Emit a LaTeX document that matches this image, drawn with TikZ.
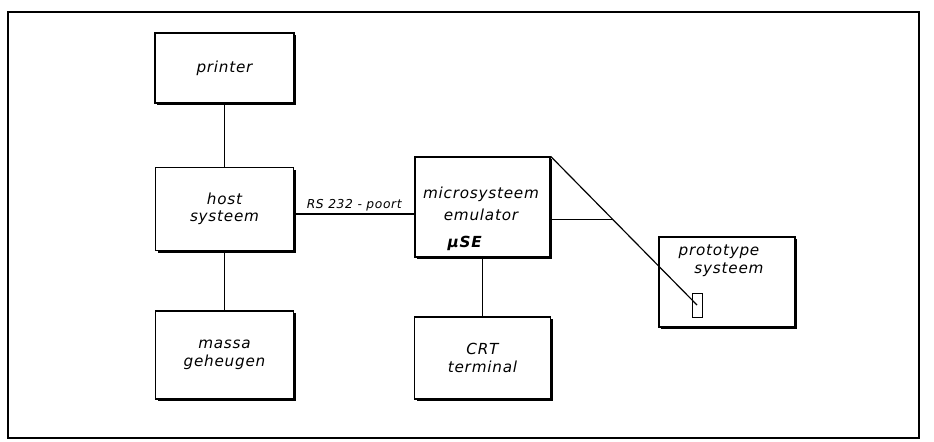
\documentclass[tikz,border=0pt]{standalone}
\usepackage{fontspec}
\setmainfont{DejaVu Sans}
\newfontfamily\blokfont[LetterSpace=5]{DejaVu Sans}
\usetikzlibrary{shadows}

\begin{document}
\begin{tikzpicture}[x=0.03cm,y=-0.03cm,
    every node/.style={font=\blokfont\itshape\fontsize{13}{15}\selectfont},
    blok/.style={draw,line width=1.1pt,fill=white,align=center,
      drop shadow={shadow xshift=0.07cm,shadow yshift=-0.07cm,opacity=1,fill=black}},
    lijn/.style={line width=1pt}]
    \useasboundingbox (0,0) rectangle (934,441);
    \draw[line width=1.1pt] (8,12) rectangle (919,438);
    % linker kolom
    \node[blok,minimum width=4.17cm,minimum height=2.1cm](printer)at(224.5,68){printer};
    \node[blok,minimum width=4.14cm,minimum height=2.49cm](host)at(224.5,209){host\\systeem};
    \node[blok,minimum width=4.14cm,minimum height=2.64cm](massa)at(224.5,355){massa\\geheugen};
    % emulator en terminal
    \node[blok,minimum width=4.05cm,minimum height=3cm](emu)at(482.5,207){};
    \node[align=center,inner sep=0pt,font=\blokfont\itshape\fontsize{13}{19}\selectfont](emulabel)at(481,219){microsysteem\\emulator\\[4pt]\bfseries\itshape µSE\hspace*{28pt}};
    \node[blok,minimum width=4.08cm,minimum height=2.46cm](crt)at(482.5,358){CRT\\terminal};
    % prototype
    \node[blok,minimum width=4.08cm,minimum height=2.7cm](proto)at(727,282){};
    \node[anchor=north,align=center,inner sep=0pt](protolabel)at(719,245){prototype\\\hspace*{17pt}systeem};
    \node[draw,line width=0.8pt,minimum width=0.3cm,minimum height=0.72cm,inner sep=0pt](stekker)at(697,305){};
    % verbindingen
    \draw[lijn](printer)--(host);
    \draw[lijn](host)--(massa);
    \draw[lijn](emu)--(crt);
    \draw[lijn](host.east |- 0,214)--node[above,inner sep=2pt,font=\blokfont\itshape\fontsize{10.5}{12}\selectfont]{RS 232 - poort}(emu.west |- 0,214);
    \draw[lijn](emu.north east)--coordinate[pos=0.426](aftak)(stekker.center);
    \draw[lijn](emu.east |- aftak)--(aftak);
\end{tikzpicture}
\end{document}
